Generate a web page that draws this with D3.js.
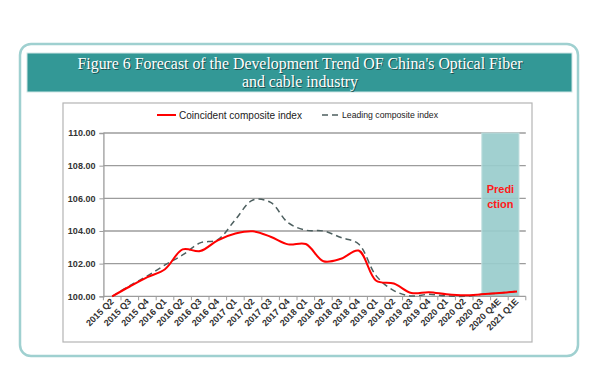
<!DOCTYPE html>
<html>
<head>
<meta charset="utf-8">
<script src="https://cdn.jsdelivr.net/npm/d3@7"></script>
<style>
  body { margin: 0; background: #fff; }
  svg { display: block; }
</style>
</head>
<body>
<svg id="chart" width="600" height="377"></svg>
<script>
// quarters on the x axis
let categories = ["2015 Q2","2015 Q3","2015 Q4","2016 Q1","2016 Q2","2016 Q3","2016 Q4",
  "2017 Q1","2017 Q2","2017 Q3","2017 Q4","2018 Q1","2018 Q2","2018 Q3","2018 Q4",
  "2019 Q1","2019 Q2","2019 Q3","2019 Q4","2020 Q1","2020 Q2","2020 Q3","2020 Q4E","2021 Q1E"];

// coincident composite index (red)
let coincident = [100.0, 100.6, 101.17, 101.66, 102.87, 102.77, 103.43, 103.84, 103.98, 103.65,
  103.18, 103.2, 102.15, 102.3, 102.8, 100.95, 100.78, 100.2, 100.25, 100.12, 100.06, 100.12, 100.2, 100.3];

// leading composite index (dashed)
let leading = [100.0, 100.65, 101.25, 101.92, 102.53, 103.27, 103.47, 104.7, 105.9, 105.75,
  104.5, 104.05, 104.0, 103.6, 103.2, 101.25, 100.35, 100.02, 100.12, 100.02, 100.0, 100.12, 100.2, 100.3];

let yTicks = [100, 102, 104, 106, 108, 110];
let predictStart = "2020 Q3";
let predictEnd = "2021 Q1E";

let svg = d3.select('#chart');

// outer rounded frame
svg.append('rect')
    .attr('x', 20).attr('y', 44)
    .attr('width', 558).attr('height', 312)
    .attr('rx', 11)
    .attr('fill', 'none')
    .attr('stroke', '#9fd0d0')
    .attr('stroke-width', 2.5);

// title banner
svg.append('rect')
    .attr('x', 27).attr('y', 53)
    .attr('width', 545).attr('height', 39)
    .attr('fill', '#339896')
    .attr('stroke', '#cfe6e6')
    .attr('stroke-width', 1);

let titleLines = ["Figure 6 Forecast of the Development Trend OF China's Optical Fiber", "and cable industry"];
let titleWidths = [445, 116];
titleLines.forEach((t, i) => {
    [['#1d4f4e', 1], ['#ffffff', 0]].forEach(([c, off]) => {
        svg.append('text')
            .attr('x', 300 + off).attr('y', 69 + i * 18 + off)
            .attr('text-anchor', 'middle')
            .attr('font-family', 'Liberation Serif, Times New Roman, serif')
            .attr('font-size', 16)
            .attr('textLength', titleWidths[i])
            .attr('lengthAdjust', 'spacingAndGlyphs')
            .attr('fill', c)
            .text(t);
    });
});

// chart box
svg.append('rect')
    .attr('x', 63).attr('y', 103)
    .attr('width', 469).attr('height', 239)
    .attr('fill', '#fff')
    .attr('stroke', '#b4b4b4')
    .attr('stroke-width', 1.2);

let LEFT = 103.4, RIGHT = 525.8, TOP = 133, BOTTOM = 296.3;

let xScale = d3.scaleBand()
    .domain(categories)
    .range([LEFT, RIGHT])
    .padding(0);

let yScale = d3.scaleLinear()
    .domain([100, 110])
    .range([BOTTOM, TOP]);

let cx = d => xScale(d) + xScale.bandwidth() / 2;

// gridlines
svg.append('g')
    .selectAll('line')
    .data(yTicks.slice(1))
    .join('line')
    .attr('x1', LEFT).attr('x2', RIGHT)
    .attr('y1', d => yScale(d)).attr('y2', d => yScale(d))
    .attr('stroke', '#9c9c9c')
    .attr('stroke-width', 1.3);

// prediction band
svg.append('rect')
    .attr('x', cx(predictStart))
    .attr('y', yScale(110))
    .attr('width', cx(predictEnd) + 2 - cx(predictStart))
    .attr('height', yScale(100) - yScale(110))
    .attr('fill', '#99cccc')
    .attr('fill-opacity', 0.92)
    .attr('stroke', '#c4e0e0')
    .attr('stroke-width', 1);

svg.append('g')
    .selectAll('text')
    .data(['Predi', 'ction'])
    .join('text')
    .attr('x', (cx(predictStart) + cx(predictEnd) + 2) / 2)
    .attr('y', (d, i) => 193 + i * 15)
    .attr('text-anchor', 'middle')
    .attr('font-family', 'Liberation Sans, Arial, sans-serif')
    .attr('font-weight', 'bold')
    .attr('font-size', 11)
    .attr('fill', '#ff1a1a')
    .text(d => d);

// y axis
let yAxis = svg.append('g')
    .attr('transform', `translate(${LEFT},0)`)
    .call(d3.axisLeft(yScale).tickValues(yTicks).tickSize(4).tickPadding(4).tickFormat(d3.format('.2f')));
yAxis.select('.domain').attr('stroke', '#9c9c9c').attr('stroke-width', 1.3);
yAxis.selectAll('.tick line').attr('stroke', '#9c9c9c');
yAxis.selectAll('.tick text')
    .attr('font-family', 'Liberation Sans, Arial, sans-serif')
    .attr('font-size', 9)
    .attr('font-weight', 'bold')
    .attr('fill', '#333');

// x axis line and ticks at band boundaries
svg.append('line')
    .attr('x1', LEFT).attr('x2', RIGHT)
    .attr('y1', BOTTOM).attr('y2', BOTTOM)
    .attr('stroke', '#9c9c9c').attr('stroke-width', 1.3);

svg.append('g')
    .selectAll('line')
    .data(categories.concat(['end']))
    .join('line')
    .attr('x1', (d, i) => LEFT + i * xScale.step())
    .attr('x2', (d, i) => LEFT + i * xScale.step())
    .attr('y1', BOTTOM).attr('y2', BOTTOM + 4)
    .attr('stroke', '#9c9c9c');

svg.append('g')
    .selectAll('text')
    .data(categories)
    .join('text')
    .attr('transform', d => `translate(${cx(d) + 2},${BOTTOM + 6}) rotate(-45)`)
    .attr('text-anchor', 'end')
    .attr('font-family', 'Liberation Sans, Arial, sans-serif')
    .attr('font-size', 9)
    .attr('font-weight', 'bold')
    .attr('fill', '#333')
    .text(d => d);

// lines
let lineGenerator = d3.line()
    .x(d => cx(d.cat))
    .y(d => yScale(d.v))
    .curve(d3.curveCatmullRom.alpha(0.5));

let leadData = categories.map((c, i) => ({cat: c, v: leading[i]}));
let coinData = categories.map((c, i) => ({cat: c, v: coincident[i]}));

svg.append('path')
    .datum(leadData)
    .attr('d', lineGenerator)
    .attr('fill', 'none')
    .attr('stroke', '#4d5f5f')
    .attr('stroke-width', 1.5)
    .attr('stroke-dasharray', '6,4');

svg.append('path')
    .datum(coinData)
    .attr('d', lineGenerator)
    .attr('fill', 'none')
    .attr('stroke', '#ff0000')
    .attr('stroke-width', 2);

// legend
let legend = svg.append('g');
legend.append('line')
    .attr('x1', 157).attr('x2', 176).attr('y1', 115).attr('y2', 115)
    .attr('stroke', '#ff0000').attr('stroke-width', 2);
legend.append('text')
    .attr('x', 179).attr('y', 118.5)
    .attr('font-family', 'Liberation Sans, Arial, sans-serif')
    .attr('font-size', 10)
    .attr('fill', '#222')
    .attr('textLength', 123)
    .attr('lengthAdjust', 'spacingAndGlyphs')
    .text('Coincident composite index');
legend.append('line')
    .attr('x1', 322).attr('x2', 338).attr('y1', 115).attr('y2', 115)
    .attr('stroke', '#4d5f5f').attr('stroke-width', 1.5)
    .attr('stroke-dasharray', '6,4');
legend.append('text')
    .attr('x', 342).attr('y', 118)
    .attr('font-family', 'Liberation Sans, Arial, sans-serif')
    .attr('font-size', 9)
    .attr('fill', '#222')
    .attr('textLength', 96)
    .attr('lengthAdjust', 'spacingAndGlyphs')
    .text('Leading composite index');
</script>
</body>
</html>
